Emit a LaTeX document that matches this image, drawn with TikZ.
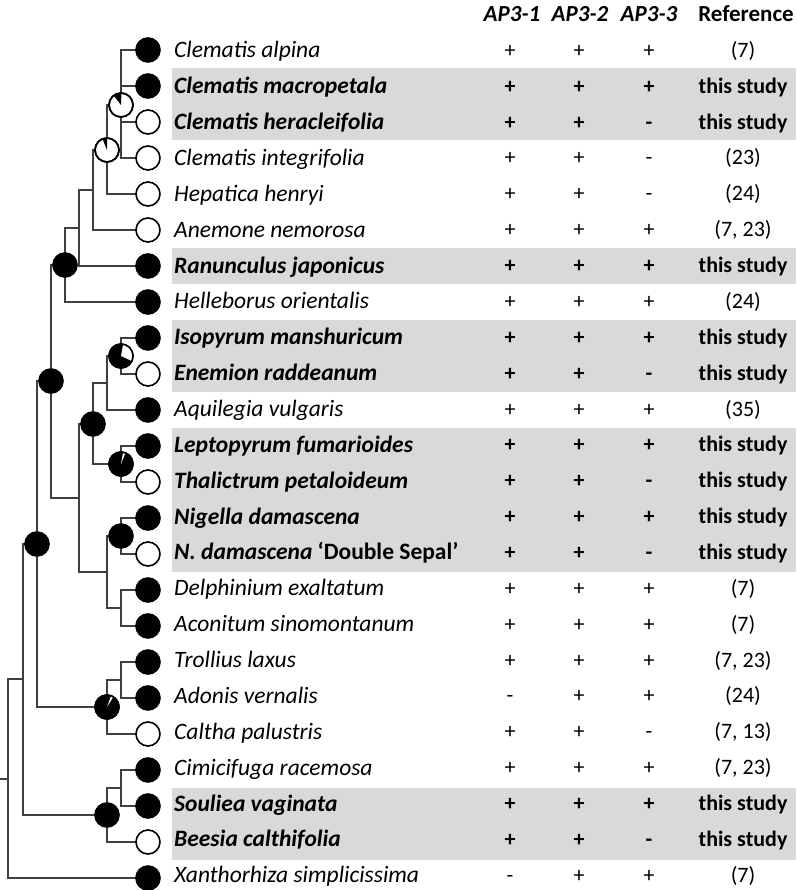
\documentclass[tikz,border=0pt]{standalone}
\usepackage{fontspec}
\setmainfont{Carlito}
\usetikzlibrary{backgrounds}
\tikzset{
  edge/.style={draw=black!75, line width=1.2pt},
  leafon/.style={circle, draw=black, fill=black, line width=1.6pt, minimum size=24pt, inner sep=0pt},
  leafoff/.style={leafon, fill=white},
  band/.style={fill=black!15, draw=none},
  txt/.style={anchor=base, font=\fontsize{22}{25}\selectfont, inner sep=0pt},
  htxt/.style={anchor=base, font=\fontsize{22}{25}\selectfont\bfseries, inner sep=0pt},
  nm/.style={anchor=base west, font=\fontsize{23.5}{26}\selectfont\itshape, inner sep=0pt},
  hnm/.style={anchor=base west, font=\fontsize{23.5}{26}\selectfont\bfseries\itshape, inner sep=0pt},
  hdr/.style={anchor=base, font=\fontsize{23}{26}\selectfont\bfseries\itshape, inner sep=0pt},
}
\newcommand\plainrow[7]{%
  \node[nm] (n#1) at (174,{57.8+(#2-50)*0.9964}) {#3};
  \node[txt] (a#1) at (510,{57.3+(#2-50)*0.9964}) {#4};
  \node[txt] (b#1) at (579,{57.3+(#2-50)*0.9964}) {#5};
  \node[txt] (c#1) at (649,{57.3+(#2-50)*0.9964}) {#6};
  \node[txt] (r#1) at (743,{57.3+(#2-50)*0.9964}) {#7};
}
\newcommand\hirow[7]{%
  \begin{pgfonlayer}{background}
    \fill[band] (172,#2-18) rectangle (796,#2+18);
  \end{pgfonlayer}
  \node[hnm] (n#1) at (174,{57.8+(#2-50)*0.9964}) {#3};
  \node[htxt] (a#1) at (510,{57.3+(#2-50)*0.9964}) {#4};
  \node[htxt] (b#1) at (579,{57.3+(#2-50)*0.9964}) {#5};
  \node[htxt] (c#1) at (649,{57.3+(#2-50)*0.9964}) {#6};
  \node[htxt] (r#1) at (743,{57.3+(#2-50)*0.9964}) {#7};
}
\newcommand\wedgefill[4]{% #1 node, #2 colour, #3 start, #4 end
  \fill[#2] (#1.center) -- ++(#3:12pt) arc[start angle=#3, end angle=#4, radius=12pt] -- cycle;
  \draw[line width=1.6pt] (#1.center) circle[radius=12pt];
}
\begin{document}
\begin{tikzpicture}[x=1pt,y=-1pt]
\useasboundingbox (0,0) rectangle (796,890);

% header
\node[hdr] (h1) at (512,22) {AP3-1};
\node[hdr] (h2) at (580,22) {AP3-2};
\node[hdr] (h3) at (649,22) {AP3-3};
\node[anchor=base, font=\fontsize{23}{26}\selectfont\bfseries, inner sep=0pt] (h4) at (746,22) {Reference};

% rows
\plainrow{1}{50}{Clematis alpina}{+}{+}{+}{(7)}
\hirow{2}{86}{Clematis macropetala}{+}{+}{+}{this study}
\hirow{3}{122}{Clematis heracleifolia}{+}{+}{-}{this study}
\plainrow{4}{158}{Clematis integrifolia}{+}{+}{-}{(23)}
\plainrow{5}{194}{Hepatica henryi}{+}{+}{-}{(24)}
\plainrow{6}{230}{Anemone nemorosa}{+}{+}{+}{(7, 23)}
\hirow{7}{266}{Ranunculus japonicus}{+}{+}{+}{this study}
\plainrow{8}{302}{Helleborus orientalis}{+}{+}{+}{(24)}
\hirow{9}{338}{Isopyrum manshuricum}{+}{+}{+}{this study}
\hirow{10}{374}{Enemion raddeanum}{+}{+}{-}{this study}
\plainrow{11}{410}{Aquilegia vulgaris}{+}{+}{+}{(35)}
\hirow{12}{446}{Leptopyrum fumarioides}{+}{+}{+}{this study}
\hirow{13}{482}{Thalictrum petaloideum}{+}{+}{-}{this study}
\hirow{14}{518}{Nigella damascena}{+}{+}{+}{this study}
\hirow{15}{554}{N. damascena {\upshape ‘Double Sepal’}}{+}{+}{-}{this study}
\plainrow{16}{590}{Delphinium exaltatum}{+}{+}{+}{(7)}
\plainrow{17}{626}{Aconitum sinomontanum}{+}{+}{+}{(7)}
\plainrow{18}{662}{Trollius laxus}{+}{+}{+}{(7, 23)}
\plainrow{19}{698}{Adonis vernalis}{-}{+}{+}{(24)}
\plainrow{20}{734}{Caltha palustris}{+}{+}{-}{(7, 13)}
\plainrow{21}{770}{Cimicifuga racemosa}{+}{+}{+}{(7, 23)}
\hirow{22}{806}{Souliea vaginata}{+}{+}{+}{this study}
\hirow{23}{842}{Beesia calthifolia}{+}{+}{-}{this study}
\plainrow{24}{878}{Xanthorhiza simplicissima}{-}{+}{+}{(7)}

% leaves
\node[leafon]  (L1)  at (148,50)  {};
\node[leafon]  (L2)  at (148,86)  {};
\node[leafoff] (L3)  at (148,122) {};
\node[leafoff] (L4)  at (148,158) {};
\node[leafoff] (L5)  at (148,194) {};
\node[leafoff] (L6)  at (148,230) {};
\node[leafon]  (L7)  at (148,266) {};
\node[leafon]  (L8)  at (148,302) {};
\node[leafon]  (L9)  at (148,338) {};
\node[leafoff] (L10) at (148,374) {};
\node[leafon]  (L11) at (148,410) {};
\node[leafon]  (L12) at (148,446) {};
\node[leafoff] (L13) at (148,482) {};
\node[leafon]  (L14) at (148,518) {};
\node[leafoff] (L15) at (148,554) {};
\node[leafon]  (L16) at (148,590) {};
\node[leafon]  (L17) at (148,626) {};
\node[leafon]  (L18) at (148,662) {};
\node[leafon]  (L19) at (148,698) {};
\node[leafoff] (L20) at (148,734) {};
\node[leafon]  (L21) at (148,770) {};
\node[leafon]  (L22) at (148,806) {};
\node[leafoff] (L23) at (148,842) {};
\node[leafon]  (L24) at (148,878) {};

% internal nodes with pies
\node[leafoff] (A) at (121,105) {};
\wedgefill{A}{black}{88}{128}
\node[leafoff] (B) at (107,150) {};
\wedgefill{B}{black}{90}{112}
\node[leafon] (E) at (65,265) {};
\node[leafon] (F) at (51,381) {};
\node[leafon] (H) at (93,424) {};
\node[leafon] (M) at (121,356) {};
\wedgefill{M}{white}{80}{-25}
\node[leafon] (K) at (121,464) {};
\wedgefill{K}{white}{68}{80}
\node[leafon] (N) at (121,536) {};
\node[leafon] (P) at (37,544) {};
\node[leafon] (Q) at (107,707) {};
\wedgefill{Q}{white}{58}{70}
\node[leafon] (T) at (107,815) {};

% internal nodes without pies
\coordinate (C) at (93,190);
\coordinate (D) at (79,228);
\coordinate (G) at (79,498);
\coordinate (J) at (107,383);
\coordinate (I) at (107,572);
\coordinate (O) at (121,608);
\coordinate (R) at (121,680);
\coordinate (S) at (23,679);
\coordinate (U) at (121,788);
\coordinate (V) at (8,779);
\coordinate (root) at (0,779);

\begin{pgfonlayer}{background}
\foreach \p/\c in {A/L1,A/L2,A/L3,A/L4,B/A,B/L5,C/B,C/L6,D/C,D/L7,E/D,E/L8,
  F/E,F/G,G/H,G/I,H/J,H/K,J/M,J/L11,M/L9,M/L10,K/L12,K/L13,I/N,I/O,N/L14,N/L15,
  O/L16,O/L17,P/F,P/Q,Q/R,Q/L20,R/L18,R/L19,S/P,S/T,T/U,T/L23,U/L21,U/L22,V/S,V/L24}
  \draw[edge] (\p.center) |- (\c.center);
\draw[edge] (root) -- (V);
\end{pgfonlayer}
\end{tikzpicture}
\end{document}
